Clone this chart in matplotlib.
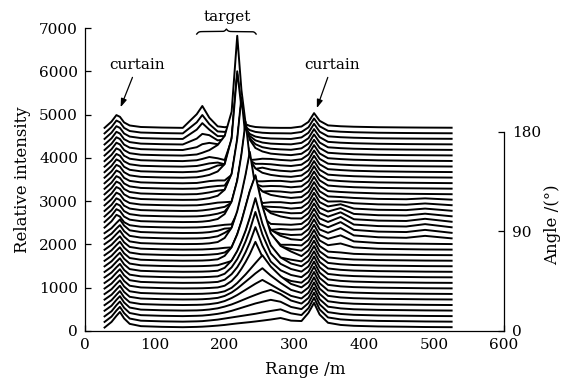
import numpy as np
import matplotlib.pyplot as plt

plt.rcParams['font.family'] = ['DejaVu Serif']
plt.rcParams['mathtext.fontset'] = 'dejavuserif'

# scan angles (deg), one trace per angle
angles = list(range(0, 181, 5))

# range samples (m) for the three parts of every trace
ranges_near = [28, 38, 45, 50, 56, 64, 80, 110]
ranges_target = [140, 160, 168, 178, 190, 200, 210, 218, 224, 230, 236, 244, 254, 266, 280, 295]
ranges_far = [310, 320, 328, 336, 348, 366, 385, 420, 460, 487, 525]

# relative intensity (bottom trace = 0 deg)
near_curtain = [
    [80, 210, 350, 440, 290, 165, 112, 96],
    [82, 205, 345, 430, 285, 160, 110, 95],
    [82, 200, 340, 425, 280, 160, 110, 95],
    [84, 200, 335, 420, 275, 158, 110, 95],
    [85, 200, 325, 410, 265, 152, 110, 95],
    [85, 198, 320, 405, 262, 150, 110, 95],
    [85, 198, 320, 400, 260, 150, 110, 95],
    [85, 200, 320, 400, 260, 150, 110, 95],
    [85, 200, 322, 402, 262, 150, 110, 95],
    [85, 200, 320, 398, 258, 150, 110, 95],
    [85, 200, 320, 400, 260, 150, 110, 95],
    [85, 202, 322, 402, 262, 150, 110, 95],
    [85, 200, 320, 398, 258, 150, 110, 95],
    [85, 200, 320, 400, 260, 150, 110, 95],
    [85, 200, 318, 396, 256, 150, 110, 95],
    [85, 200, 320, 400, 260, 150, 110, 95],
    [85, 200, 320, 398, 258, 150, 110, 95],
    [85, 200, 320, 400, 260, 150, 110, 95],
    [85, 230, 380, 340, 210, 140, 105, 92],
    [85, 232, 382, 342, 212, 140, 105, 92],
    [85, 230, 380, 340, 210, 140, 105, 92],
    [85, 228, 378, 338, 208, 140, 105, 92],
    [85, 230, 380, 340, 210, 140, 105, 92],
    [85, 232, 382, 342, 212, 140, 105, 92],
    [85, 230, 380, 340, 210, 140, 105, 92],
    [85, 228, 378, 338, 208, 140, 105, 92],
    [85, 230, 380, 340, 210, 140, 105, 92],
    [85, 232, 382, 342, 212, 140, 105, 92],
    [85, 230, 380, 340, 210, 140, 105, 92],
    [85, 228, 378, 338, 208, 140, 105, 92],
    [85, 230, 380, 340, 210, 140, 105, 92],
    [85, 232, 382, 342, 212, 140, 105, 92],
    [85, 230, 380, 340, 210, 140, 105, 92],
    [85, 228, 378, 338, 208, 140, 105, 92],
    [85, 230, 380, 340, 210, 140, 105, 92],
    [85, 232, 382, 342, 212, 140, 105, 92],
    [85, 230, 380, 340, 210, 140, 105, 92],
]

target = [
    [88, 95, 100, 110, 125, 140, 160, 175, 185, 195, 205, 220, 240, 265, 300, 240],
    [88, 95, 100, 115, 135, 160, 185, 205, 220, 235, 250, 270, 300, 335, 372, 280],
    [88, 95, 100, 115, 140, 170, 210, 250, 280, 310, 340, 380, 420, 464, 420, 300],
    [88, 92, 98, 112, 140, 180, 230, 280, 320, 360, 400, 450, 510, 566, 470, 320],
    [88, 92, 96, 108, 135, 180, 250, 320, 380, 440, 500, 580, 668, 560, 430, 300],
    [88, 90, 94, 104, 125, 170, 250, 340, 420, 500, 580, 690, 810, 640, 470, 310],
    [88, 90, 92, 100, 115, 150, 230, 340, 440, 540, 650, 800, 982, 720, 500, 320],
    [88, 90, 92, 98, 110, 150, 260, 400, 540, 700, 880, 1164, 820, 520, 350, 260],
    [88, 90, 92, 98, 110, 160, 290, 450, 610, 800, 1020, 1376, 950, 580, 380, 270],
    [88, 90, 92, 98, 110, 170, 320, 510, 700, 920, 1180, 1598, 1080, 640, 400, 280],
    [88, 90, 92, 98, 112, 180, 350, 570, 790, 1040, 1340, 1790, 1200, 700, 420, 280],
    [88, 90, 92, 98, 112, 160, 210, 420, 640, 880, 1180, 1600, 1020, 540, 290, 240],
    [88, 90, 92, 100, 120, 200, 400, 700, 1000, 1350, 1700, 2064, 1350, 720, 430, 300],
    [88, 90, 92, 100, 115, 150, 260, 560, 850, 1200, 1550, 1900, 1180, 560, 290, 230],
    [88, 90, 92, 100, 112, 130, 140, 430, 720, 1060, 1420, 1780, 1060, 440, 200, 200],
    [88, 90, 94, 105, 135, 230, 470, 850, 1250, 1700, 2220, 1400, 750, 420, 280, 200],
    [88, 90, 94, 106, 140, 220, 320, 650, 1000, 1450, 1950, 1150, 560, 270, 200, 170],
    [88, 90, 95, 108, 140, 190, 200, 520, 900, 1350, 1850, 1050, 450, 160, 180, 165],
    [85, 88, 94, 105, 130, 150, 160, 420, 800, 1250, 1750, 950, 330, 170, 160, 150],
    [85, 88, 95, 112, 155, 270, 560, 1050, 1650, 2398, 1550, 850, 450, 290, 215, 170],
    [85, 88, 96, 114, 150, 200, 400, 880, 1450, 2150, 1350, 650, 300, 200, 190, 160],
    [85, 88, 98, 118, 150, 180, 280, 760, 1300, 2000, 1250, 560, 190, 180, 170, 140],
    [85, 88, 100, 120, 150, 160, 170, 640, 1200, 1900, 1100, 430, 140, 160, 160, 135],
    [85, 88, 102, 125, 180, 320, 690, 1500, 2456, 1500, 860, 460, 280, 200, 160, 130],
    [85, 90, 105, 130, 170, 190, 520, 1300, 2200, 1300, 680, 300, 150, 160, 150, 125],
    [85, 90, 108, 130, 150, 160, 400, 1150, 2100, 1200, 560, 190, 140, 150, 145, 120],
    [85, 92, 110, 135, 150, 150, 280, 1050, 1950, 1050, 420, 130, 130, 140, 140, 118],
    [85, 95, 115, 150, 230, 400, 1000, 2544, 1700, 950, 500, 300, 200, 150, 120, 105],
    [85, 97, 120, 160, 240, 260, 820, 2300, 1500, 780, 340, 160, 190, 145, 118, 102],
    [85, 100, 125, 160, 180, 140, 700, 2200, 1400, 650, 230, 150, 150, 140, 115, 100],
    [85, 105, 135, 180, 150, 110, 580, 2100, 1300, 540, 110, 120, 140, 135, 112, 98],
    [85, 110, 150, 210, 330, 540, 1100, 2852, 1600, 820, 450, 260, 180, 130, 110, 95],
    [85, 150, 220, 250, 220, 260, 500, 1400, 1000, 600, 350, 220, 150, 115, 100, 90],
    [85, 220, 330, 300, 180, 200, 380, 900, 700, 450, 280, 180, 130, 105, 95, 88],
    [85, 300, 450, 300, 150, 150, 250, 600, 480, 320, 200, 140, 110, 95, 90, 85],
    [85, 340, 510, 300, 130, 120, 180, 400, 330, 230, 160, 120, 100, 90, 88, 85],
    [85, 400, 590, 320, 120, 100, 120, 250, 220, 170, 130, 105, 95, 88, 85, 85],
]

far_curtain = [
    [230, 420, 650, 380, 190, 140, 120, 105, 98, 92, 88],
    [240, 400, 640, 370, 185, 140, 120, 105, 98, 92, 88],
    [250, 390, 630, 360, 180, 138, 118, 104, 97, 92, 88],
    [250, 380, 620, 350, 178, 138, 118, 104, 97, 92, 88],
    [240, 370, 610, 345, 175, 136, 118, 104, 97, 92, 88],
    [240, 365, 600, 340, 172, 135, 118, 104, 97, 92, 88],
    [240, 360, 595, 335, 170, 135, 118, 104, 97, 92, 88],
    [220, 350, 590, 330, 170, 135, 118, 104, 97, 92, 88],
    [220, 345, 580, 325, 168, 134, 117, 103, 96, 91, 88],
    [220, 340, 570, 320, 166, 134, 117, 103, 96, 91, 88],
    [215, 335, 560, 315, 165, 133, 116, 103, 96, 91, 88],
    [200, 330, 555, 310, 165, 133, 116, 103, 96, 91, 88],
    [195, 325, 550, 305, 165, 135, 116, 103, 96, 91, 88],
    [190, 320, 545, 300, 170, 150, 118, 103, 96, 91, 88],
    [185, 315, 540, 300, 190, 230, 140, 108, 98, 92, 88],
    [180, 310, 535, 300, 210, 290, 150, 112, 100, 95, 88],
    [178, 305, 530, 300, 220, 330, 160, 118, 105, 150, 92],
    [175, 300, 525, 300, 220, 340, 160, 120, 110, 160, 92],
    [170, 295, 520, 300, 215, 330, 155, 120, 110, 165, 92],
    [168, 290, 515, 295, 210, 310, 150, 118, 110, 160, 92],
    [165, 285, 510, 290, 200, 280, 145, 115, 108, 150, 90],
    [160, 280, 505, 290, 190, 240, 140, 112, 105, 140, 90],
    [155, 275, 500, 285, 175, 180, 135, 110, 102, 130, 90],
    [150, 270, 495, 285, 165, 150, 130, 108, 100, 120, 90],
    [145, 265, 490, 280, 160, 140, 125, 107, 98, 94, 88],
    [140, 260, 485, 280, 160, 138, 122, 106, 98, 94, 88],
    [138, 255, 480, 275, 158, 136, 120, 105, 97, 93, 88],
    [135, 250, 470, 270, 156, 135, 120, 105, 97, 93, 88],
    [132, 245, 465, 268, 155, 134, 118, 104, 96, 92, 88],
    [130, 240, 460, 265, 154, 133, 118, 104, 96, 92, 88],
    [128, 238, 455, 262, 152, 132, 117, 103, 95, 92, 88],
    [126, 235, 450, 260, 150, 130, 116, 102, 95, 92, 88],
    [124, 232, 445, 258, 148, 128, 115, 102, 95, 92, 88],
    [122, 230, 440, 255, 146, 126, 114, 101, 94, 91, 88],
    [120, 228, 435, 252, 145, 125, 113, 100, 94, 91, 88],
    [118, 225, 430, 250, 144, 124, 112, 100, 94, 91, 88],
    [116, 222, 425, 248, 142, 122, 111, 100, 94, 91, 88],
]

x_ticks = [0, 100, 200, 300, 400, 500, 600]
y_ticks = [0, 1000, 2000, 3000, 4000, 5000, 6000, 7000]
angle_ticks = [0, 90, 180]

shift_per_deg = 25.6  # vertical shift of the waterfall per degree

fig = plt.figure(figsize=(5.63, 3.80), dpi=100)
ax = fig.add_axes([85 / 563, 49 / 380, 419 / 563, 303 / 380])

rng = np.array(ranges_near + ranges_target + ranges_far)
n = len(angles)
# draw from the back (180 deg) to the front (0 deg) so front traces hide the ones behind
for i in range(n - 1, -1, -1):
    vals = np.array(near_curtain[i] + target[i] + far_curtain[i], dtype=float)
    y = vals + angles[i] * shift_per_deg
    z = 1 + (n - i) * 0.03
    ax.fill_between(rng, 0, y, color='white', lw=0, zorder=z)
    ax.plot(rng, y, color='black', lw=1.4, zorder=z + 0.01, solid_joinstyle='round')

ax.set_xlim(0, 600)
ax.set_ylim(0, 7000)
ax.set_xticks(x_ticks)
ax.set_yticks(y_ticks)
ax.tick_params(direction='in', length=4, width=0.9, labelsize=11, pad=5)
ax.spines['top'].set_visible(False)
ax.spines['right'].set_visible(False)
for s in ['left', 'bottom']:
    ax.spines[s].set_linewidth(0.9)
ax.set_xlabel('Range /m', fontsize=12)
ax.xaxis.set_label_coords(0.525, -0.1)
ax.set_ylabel('Relative intensity', fontsize=12, labelpad=6)

ax2 = ax.twinx()
ax2.set_ylim(0, 7000 / shift_per_deg)
ax2.set_yticks(angle_ticks)
ax2.tick_params(direction='in', length=4, width=0.9, labelsize=11, pad=6)
for s in ['top', 'left', 'bottom']:
    ax2.spines[s].set_visible(False)
ax2.spines['right'].set_bounds(0, 180)
ax2.spines['right'].set_linewidth(0.9)
ax2.set_ylabel('Angle /(°)', fontsize=12)
ax2.yaxis.set_label_coords(1.095, 0.35)

arrow = dict(arrowstyle='-|>,head_length=0.45,head_width=0.16', color='black', lw=0.9,
             shrinkA=2, shrinkB=0)
ax.annotate('curtain', xy=(51, 5170), xytext=(75, 6145), ha='center', va='center',
            fontsize=11, arrowprops=arrow, zorder=5)
ax.annotate('curtain', xy=(332, 5150), xytext=(354, 6145), ha='center', va='center',
            fontsize=11, arrowprops=arrow, zorder=5)
ax.text(204, 7250, 'target', ha='center', va='center', fontsize=11, clip_on=False)

# curly brace over the target returns
t = np.linspace(0, 0.5, 200)
b = 60.0
half = 1 / (1 + np.exp(-b * t)) + 1 / (1 + np.exp(-b * (t - 0.5))) - 0.5
bx = np.concatenate([t, 1 - t[::-1]])
by = np.concatenate([half, half[::-1]])
x0, x1, y0, h = 160, 245, 6860, 115
ax.plot(x0 + bx * (x1 - x0), y0 + by * h, color='black', lw=1.0, clip_on=False, zorder=5)

fig.savefig('out.png', dpi=100)
